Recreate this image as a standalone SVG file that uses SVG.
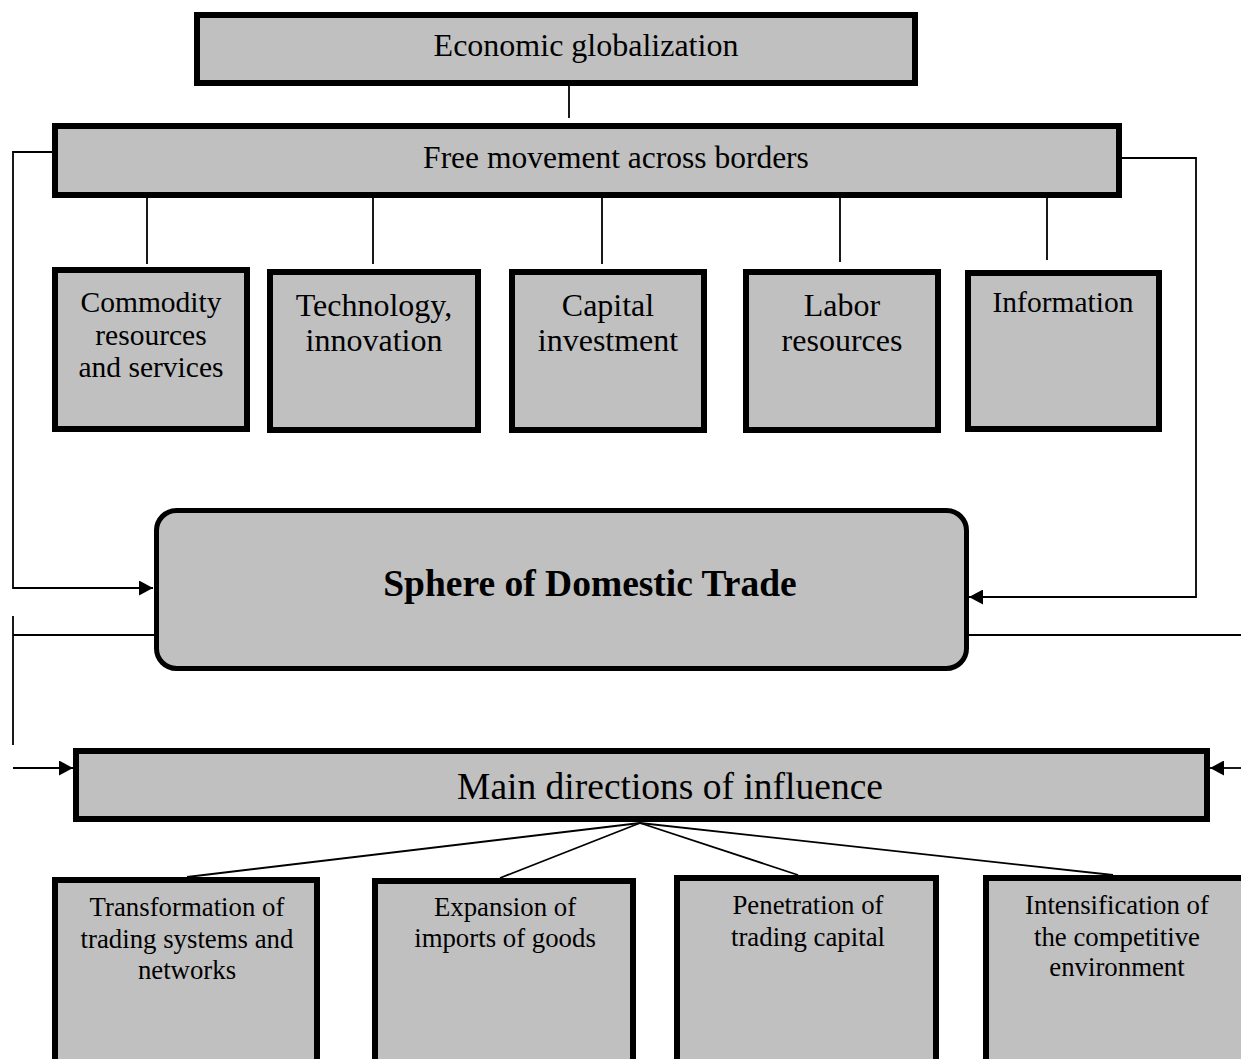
<svg xmlns="http://www.w3.org/2000/svg" width="1241" height="1059" viewBox="0 0 1241 1059">
<style>
.box{fill:#c0c0c0;stroke:#000;stroke-width:6}
.t{font-family:"Liberation Serif","Times New Roman",serif;fill:#000;text-anchor:middle}
.c{fill:none;stroke:#000;stroke-width:1.8}
</style>
<defs>
<marker id="ah" markerWidth="14" markerHeight="15" refX="14" refY="7.5" orient="auto" markerUnits="userSpaceOnUse">
<path d="M0,0 L14,7.5 L0,15 Z" fill="#000"/>
</marker>
</defs>
<rect x="0" y="0" width="1241" height="1059" fill="#fff"/>
<g id="connectors">
<line class="c" x1="569" y1="80" x2="569" y2="118"/>
<line class="c" x1="147" y1="196" x2="147" y2="264"/>
<line class="c" x1="373" y1="196" x2="373" y2="264"/>
<line class="c" x1="602" y1="196" x2="602" y2="264"/>
<line class="c" x1="840" y1="192" x2="840" y2="262"/>
<line class="c" x1="1047" y1="190" x2="1047" y2="260"/>
<polyline class="c" points="55,152 13,152 13,588 153,588" marker-end="url(#ah)"/>
<polyline class="c" points="1122,158 1196,158 1196,597 969,597" marker-end="url(#ah)"/>
<line class="c" x1="13" y1="616" x2="13" y2="745"/>
<line class="c" x1="13" y1="635" x2="156" y2="635"/>
<line class="c" x1="967" y1="635" x2="1241" y2="635"/>
<line class="c" x1="13" y1="768" x2="73" y2="768" marker-end="url(#ah)"/>
<line class="c" x1="1241" y1="768" x2="1210" y2="768" marker-end="url(#ah)"/>
<line class="c" x1="640" y1="823" x2="187" y2="877"/>
<line class="c" x1="640" y1="823" x2="500" y2="878"/>
<line class="c" x1="640" y1="823" x2="798" y2="875"/>
<line class="c" x1="640" y1="823" x2="1113" y2="875"/>
</g>
<g id="economic-globalization">
<rect class="box" x="197" y="15" width="718" height="68"/>
<text class="t" x="586" y="56" font-size="32">Economic globalization</text>
</g>
<g id="free-movement">
<rect class="box" x="55" y="126" width="1064" height="69"/>
<text class="t" x="616" y="168" font-size="31.5">Free movement across borders</text>
</g>
<g id="commodity">
<rect class="box" x="55" y="270" width="192" height="159"/>
<text class="t" x="151" y="312" font-size="29.5">Commodity</text>
<text class="t" x="151" y="345" font-size="29.5">resources</text>
<text class="t" x="151" y="377" font-size="29.5">and services</text>
</g>
<g id="technology">
<rect class="box" x="270" y="272" width="208" height="158"/>
<text class="t" x="374" y="316" font-size="32">Technology,</text>
<text class="t" x="374" y="351" font-size="32">innovation</text>
</g>
<g id="capital">
<rect class="box" x="512" y="272" width="192" height="158"/>
<text class="t" x="608" y="316" font-size="32">Capital</text>
<text class="t" x="608" y="351" font-size="32">investment</text>
</g>
<g id="labor">
<rect class="box" x="746" y="272" width="192" height="158"/>
<text class="t" x="842" y="316" font-size="32">Labor</text>
<text class="t" x="842" y="351" font-size="32">resources</text>
</g>
<g id="information">
<rect class="box" x="968" y="273" width="191" height="156"/>
<text class="t" x="1063" y="312" font-size="29.5">Information</text>
</g>
<g id="sphere">
<rect x="156.5" y="510.5" width="810" height="158" rx="20" fill="#c0c0c0" stroke="#000" stroke-width="5"/>
<text class="t" x="590" y="596" font-size="37.5" font-weight="bold">Sphere of Domestic Trade</text>
</g>
<g id="main-directions">
<rect class="box" x="76" y="751" width="1131" height="68" stroke-width="5.5"/>
<text class="t" x="670" y="799" font-size="37.5">Main directions of influence</text>
</g>
<g id="transformation">
<rect class="box" x="55" y="880" width="262" height="200"/>
<text class="t" x="187" y="916" font-size="26.8">Transformation of</text>
<text class="t" x="187" y="948" font-size="26.8">trading systems and</text>
<text class="t" x="187" y="979" font-size="26.8">networks</text>
</g>
<g id="expansion">
<rect class="box" x="375" y="881" width="258" height="200"/>
<text class="t" x="505" y="916" font-size="26.8">Expansion of</text>
<text class="t" x="505" y="947" font-size="26.8">imports of goods</text>
</g>
<g id="penetration">
<rect class="box" x="677" y="878" width="259" height="200"/>
<text class="t" x="808" y="914" font-size="26.8">Penetration of</text>
<text class="t" x="808" y="946" font-size="26.8">trading capital</text>
</g>
<g id="intensification">
<rect class="box" x="986" y="878" width="270" height="200"/>
<text class="t" x="1117" y="914" font-size="26.8">Intensification of</text>
<text class="t" x="1117" y="946" font-size="26.8">the competitive</text>
<text class="t" x="1117" y="976" font-size="26.8">environment</text>
</g>
</svg>
